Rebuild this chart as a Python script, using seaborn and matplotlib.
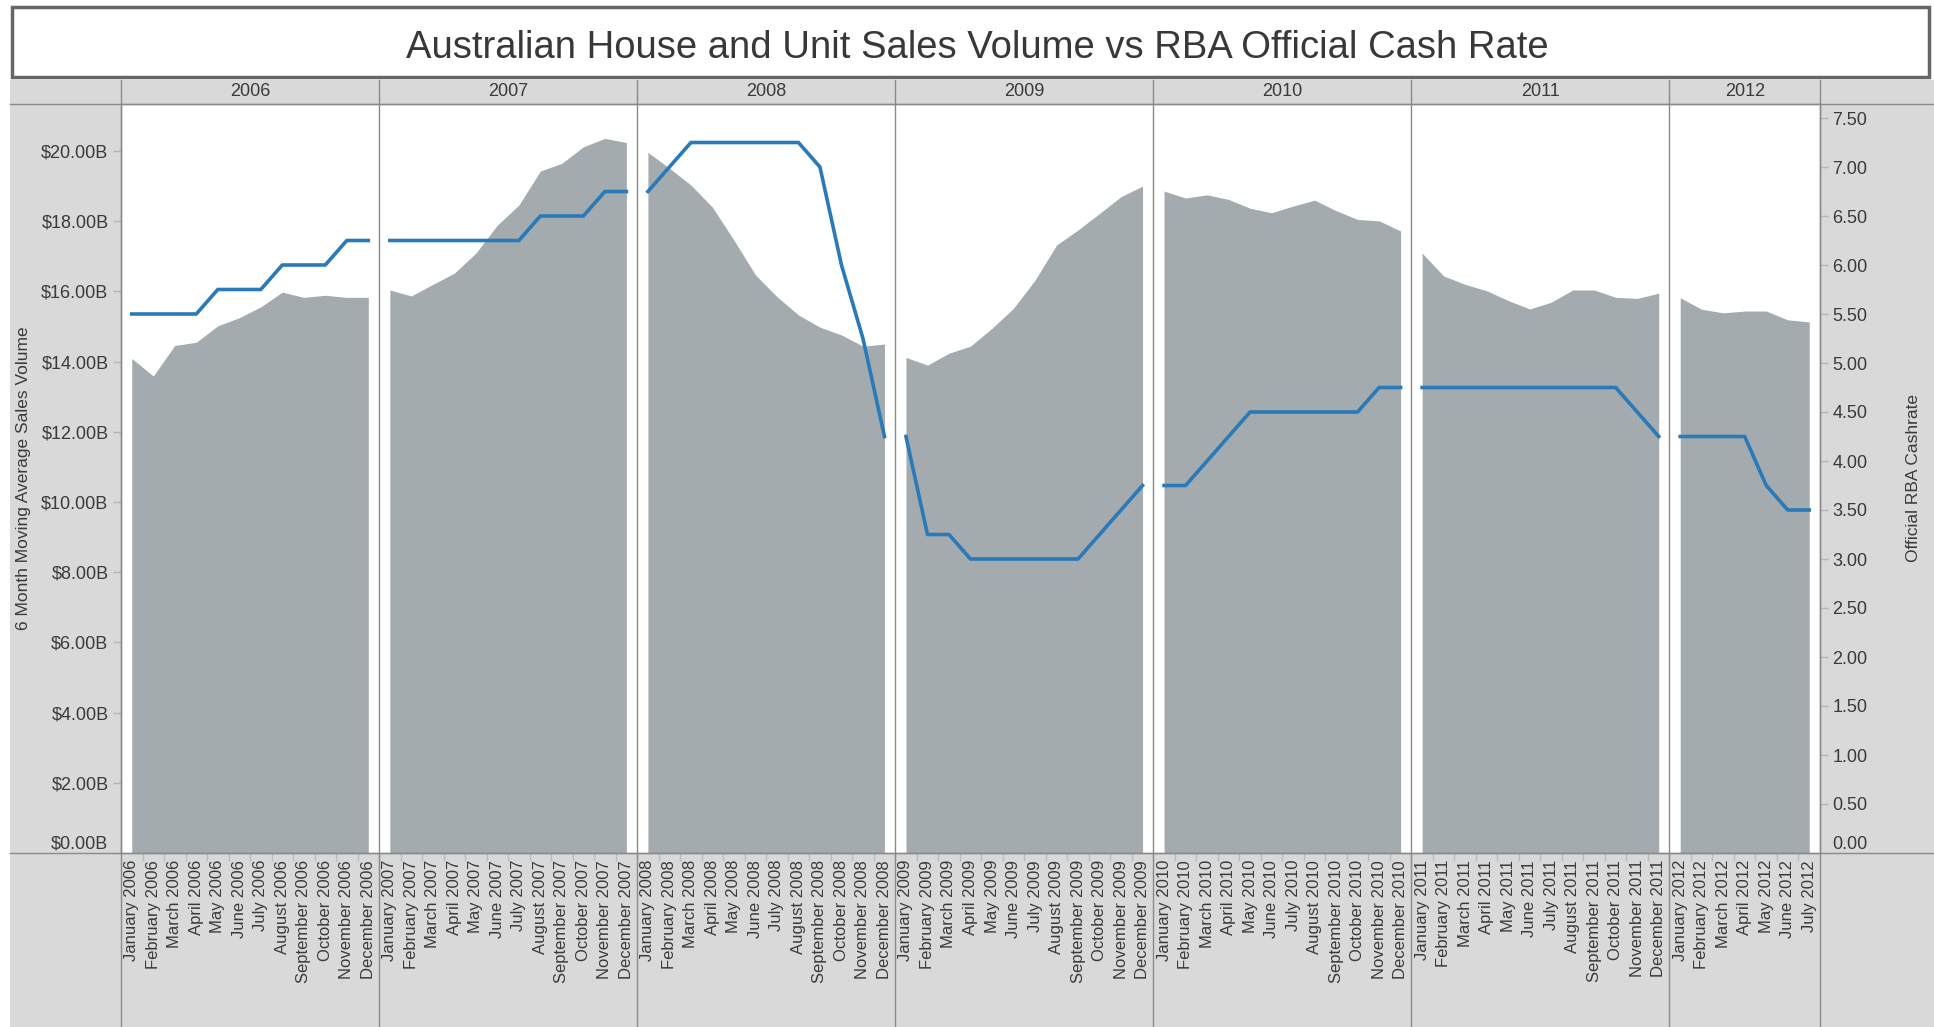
import numpy as np
import pandas as pd
import matplotlib
matplotlib.use("Agg")
import matplotlib.pyplot as plt
import seaborn as sns
from matplotlib.patches import Rectangle
from matplotlib.lines import Line2D

# ---------------- data ----------------
years = [2006, 2007, 2008, 2009, 2010, 2011, 2012]
month_names = ["January", "February", "March", "April", "May", "June", "July",
               "August", "September", "October", "November", "December"]

# 6 month moving average sales volume ($B)
sales_2006 = [14.09, 13.59, 14.46, 14.55, 15.02, 15.25, 15.56, 15.98, 15.83, 15.89, 15.83, 15.83]
sales_2007 = [16.04, 15.87, 16.20, 16.52, 17.09, 17.89, 18.46, 19.43, 19.65, 20.12, 20.36, 20.24]
sales_2008 = [19.96, 19.51, 19.03, 18.40, 17.46, 16.47, 15.85, 15.33, 14.98, 14.76, 14.44, 14.50]
sales_2009 = [14.12, 13.90, 14.24, 14.44, 14.95, 15.52, 16.32, 17.32, 17.75, 18.22, 18.70, 19.00]
sales_2010 = [18.86, 18.66, 18.75, 18.62, 18.37, 18.24, 18.43, 18.60, 18.30, 18.05, 18.01, 17.72]
sales_2011 = [17.09, 16.44, 16.20, 16.02, 15.74, 15.50, 15.69, 16.04, 16.04, 15.83, 15.80, 15.95]
sales_2012 = [15.82, 15.49, 15.39, 15.44, 15.44, 15.19, 15.13]

# RBA official cash rate (%)
rate_2006 = [5.50, 5.50, 5.50, 5.50, 5.75, 5.75, 5.75, 6.00, 6.00, 6.00, 6.25, 6.25]
rate_2007 = [6.25, 6.25, 6.25, 6.25, 6.25, 6.25, 6.25, 6.50, 6.50, 6.50, 6.75, 6.75]
rate_2008 = [6.75, 7.00, 7.25, 7.25, 7.25, 7.25, 7.25, 7.25, 7.00, 6.00, 5.25, 4.25]
rate_2009 = [4.25, 3.25, 3.25, 3.00, 3.00, 3.00, 3.00, 3.00, 3.00, 3.25, 3.50, 3.75]
rate_2010 = [3.75, 3.75, 4.00, 4.25, 4.50, 4.50, 4.50, 4.50, 4.50, 4.50, 4.75, 4.75]
rate_2011 = [4.75, 4.75, 4.75, 4.75, 4.75, 4.75, 4.75, 4.75, 4.75, 4.75, 4.50, 4.25]
rate_2012 = [4.25, 4.25, 4.25, 4.25, 3.75, 3.50, 3.50]

sales_ticks = [0, 2, 4, 6, 8, 10, 12, 14, 16, 18, 20]
rate_ticks = [0.0, 0.5, 1.0, 1.5, 2.0, 2.5, 3.0, 3.5, 4.0, 4.5, 5.0, 5.5, 6.0, 6.5, 7.0, 7.5]

title = "Australian House and Unit Sales Volume vs RBA Official Cash Rate"
left_label = "6 Month Moving Average Sales Volume"
right_label = "Official RBA Cashrate"

sales_by_year = [sales_2006, sales_2007, sales_2008, sales_2009, sales_2010, sales_2011, sales_2012]
rate_by_year = [rate_2006, rate_2007, rate_2008, rate_2009, rate_2010, rate_2011, rate_2012]

rows = []
i = 0
for y, s_list, r_list in zip(years, sales_by_year, rate_by_year):
    for m, (s, r) in enumerate(zip(s_list, r_list)):
        rows.append(dict(year=y, idx=i, label=f"{month_names[m]} {y}", sales=s, rate=r))
        i += 1
df = pd.DataFrame(rows)
N = len(df)

# ---------------- style ----------------
plt.rcParams['font.family'] = ['Liberation Sans', 'DejaVu Sans']
BG = "#d9d9d9"
LINE = "#8a8a8a"
AREA = "#a4abae"
BLUE = "#2a79b8"
TXT = "#3a3a3a"

W, H = 1934, 1027
fig = plt.figure(figsize=(W / 100, H / 100), dpi=100)
fig.patch.set_facecolor("white")


def fx(x):
    return x / W


def fy(y):
    return 1 - y / H


# gray frame
fig.add_artist(Rectangle((fx(10), fy(1027)), fx(1934) - fx(10), fy(80) - fy(1027),
                         transform=fig.transFigure, facecolor=BG, edgecolor='none', zorder=0))
# title box
fig.add_artist(Rectangle((fx(11.5), fy(76.5)), fx(1928.5) - fx(11.5), fy(6.5) - fy(76.5),
                         transform=fig.transFigure, facecolor='white', edgecolor='#666666',
                         linewidth=2.5, zorder=1))
fig.text(fx(977), fy(48), title, ha='center', va='center', fontsize=27.5,
         color='#383838', zorder=3)

PL, PR, PT, PB = 121, 1820, 104, 853
ax = fig.add_axes([fx(PL), fy(PB), fx(PR) - fx(PL), fy(PT) - fy(PB)], zorder=2)
ax.set_facecolor('white')
ax2 = ax.twinx()

# areas per year
for y in years:
    sub = df[df.year == y]
    ax.fill_between(sub.idx, 0, sub.sales, color=AREA, linewidth=0, zorder=1)

# rate line per year
sns.lineplot(data=df, x='idx', y='rate', units='year', estimator=None, sort=False,
             color=BLUE, linewidth=2.6, ax=ax2, legend=False)

ax.set_xlim(-0.5, N - 0.5)
ax.set_ylim(0, (PB - PT) / 35.1)
ax2.set_ylim(0, (PB - PT) / 98.0)

# panel separators
bounds = np.cumsum([len(s) for s in sales_by_year])[:-1]
for b in bounds:
    ax.axvline(b - 0.5, color=LINE, linewidth=1, zorder=3)

# y axes
ax.set_yticks(sales_ticks, [f"${v:.2f}B" for v in sales_ticks])
ax.tick_params(axis='y', direction='out', length=6, width=1, color='#b5b5b5',
               labelsize=13, labelcolor=TXT, pad=3)
ax2.set_yticks(rate_ticks, [f"{v:.2f}" for v in rate_ticks])
ax2.tick_params(axis='y', direction='out', length=6, width=1, color='#b5b5b5',
                labelsize=13, labelcolor=TXT, pad=3)
ax.set_ylabel("")
ax2.set_ylabel("")
ax2.set_xlabel("")

# x axis labels
ax.set_xticks(df.idx, df.label, rotation=90)
ax.tick_params(axis='x', which='major', length=0, labelsize=12, labelcolor=TXT, pad=5)
ax.set_xticks(np.arange(0.5, N - 1, 1), minor=True)
ax.tick_params(axis='x', which='minor', length=6, width=1, color='#bcbcbc', direction='out')
ax.set_xlabel("")

for sp in ax.spines.values():
    sp.set_color(LINE)
    sp.set_linewidth(1)
for sp in ax2.spines.values():
    sp.set_visible(False)

# shift zero labels up like the reference
for lab in ax.get_yticklabels():
    if lab.get_text() == "$0.00B":
        lab.set_va('bottom')
for lab in ax2.get_yticklabels():
    if lab.get_text() == "0.00":
        lab.set_va('bottom')

# frame lines in header / footer
def fline(x0, y0, x1, y1):
    fig.add_artist(Line2D([fx(x0), fx(x1)], [fy(y0), fy(y1)], transform=fig.transFigure,
                          color=LINE, linewidth=1, zorder=4))


fline(10, PT, 1934, PT)
fline(10, PB, 1934, PB)
fline(PL, 80, PL, 1027)
fline(PR, 80, PR, 1027)
px_per = (PR - PL) / N
edges = [0] + list(bounds) + [N]
for b in bounds:
    xb = PL + b * px_per
    fline(xb, 80, xb, PT)
    fline(xb, PB, xb, 1027)

# year headers
for k, y in enumerate(years):
    xc = PL + (edges[k] + edges[k + 1]) / 2 * px_per
    fig.text(fx(xc), fy(92), str(y), ha='center', va='center', fontsize=13, color=TXT, zorder=5)

# axis titles
fig.text(fx(24), fy(478), left_label, rotation=90, ha='center', va='center',
         fontsize=12.5, color=TXT)
fig.text(fx(1913), fy(478), right_label, rotation=90, ha='center', va='center',
         fontsize=12.5, color=TXT)

fig.savefig("out.png", dpi=100, facecolor=fig.get_facecolor())
